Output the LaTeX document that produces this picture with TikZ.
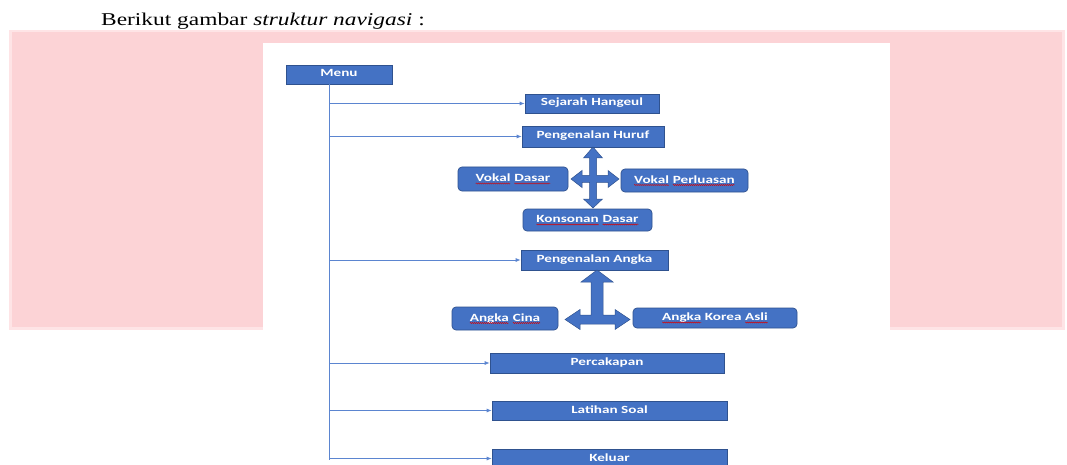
\documentclass[tikz,border=0pt]{standalone}
\usepackage{fontspec}
\setmainfont{Liberation Serif}
\newfontfamily\titlefont[FakeStretch=1.3]{Liberation Serif}
\newfontfamily\boxfont[FakeStretch=1.38]{Carlito}
\usetikzlibrary{arrows.meta,decorations.pathmorphing}
\newcommand\rw[1]{\tikz[baseline=(w.base),x=1pt,y=1pt]{\node[inner sep=0pt,outer sep=0pt,draw=none,fill=none,
    minimum width=0pt,minimum height=0pt,rounded corners=0pt,text height=,text depth=](w){#1};
  \draw[red!85!black, line width=0.4pt, sharp corners, decorate, decoration={snake,amplitude=0.6pt,segment length=2pt}]
  ([yshift=-2pt]w.base west) -- ([yshift=-2pt]w.base east);}}
\definecolor{pinkbg}{RGB}{252,211,214}
\definecolor{pinkedge}{RGB}{254,228,230}
\definecolor{boxblue}{RGB}{68,114,196}
\definecolor{boxedge}{RGB}{47,82,143}
\definecolor{lineblue}{RGB}{91,133,208}
\tikzset{
  box/.style={draw=boxedge, fill=boxblue, line width=0.7pt, text=white, inner sep=0pt,
    text height=7.5pt, text depth=2.5pt,
    font=\boxfont\fontsize{11}{12}\selectfont\bfseries},
  rbox/.style={box, rounded corners=4pt},
  link/.style={draw=lineblue, line width=0.8pt, -{Latex[length=5pt,width=4pt]}},
  trunkline/.style={draw=lineblue, line width=0.9pt},
  bigarrow/.style={draw=boxedge, fill=boxblue, line width=0.5pt, line join=miter},
}
\begin{document}
\begin{tikzpicture}[x=1pt,y=-1pt]
\useasboundingbox (0,0) rectangle (1067,465);
\clip (0,0) rectangle (1067,465);
% background band
\fill[pinkedge] (9,30) rectangle (1065,330);
\fill[pinkbg] (12,32) rectangle (1062,327);
\fill[white] (263,43) rectangle (890,470);
% title
\node[anchor=base west, inner sep=0pt, font=\titlefont\fontsize{18}{20}\selectfont] (title) at (101,26)
  {Berikut gambar \textit{struktur navigasi} :};
% boxes
\node[box, minimum width=106pt, minimum height=19pt] (menu) at (339,74.5) {Menu};
\node[box, minimum width=134pt, minimum height=19pt] (sejarah) at (592,103.5) {Sejarah Hangeul};
\node[box, minimum width=142pt, minimum height=21pt] (huruf) at (593,136.5) {Pengenalan Huruf};
\node[rbox, minimum width=110pt, minimum height=24pt] (vdasar) at (513,179) {\rw{Vokal} \rw{Dasar}};
\node[rbox, minimum width=127pt, minimum height=23pt] (vperluasan) at (684.5,180.5) {\rw{Vokal} \rw{Perluasan}};
\node[rbox, minimum width=129pt, minimum height=22pt] (konsonan) at (587.5,220) {\rw{Konsonan} \rw{Dasar}};
\node[box, minimum width=147pt, minimum height=20pt] (angka) at (594.5,260) {Pengenalan Angka};
\node[rbox, minimum width=106pt, minimum height=23pt] (cina) at (505,318.5) {\rw{Angka} \rw{Cina}};
\node[rbox, minimum width=164pt, minimum height=20pt] (korea) at (715,318) {\rw{Angka} Korea \rw{Asli}};
\node[box, minimum width=234pt, minimum height=20pt] (percakapan) at (607,363) {Percakapan};
\node[box, minimum width=235pt, minimum height=19pt] (latihan) at (609.5,410.5) {Latihan Soal};
\node[box, minimum width=235pt, minimum height=19pt] (keluar) at (609.5,458.5) {Keluar};
% trunk
\coordinate (ttop) at (329,84);
\coordinate (tbot) at (329,460);
\draw[trunkline] (ttop) -- (tbot);
\foreach \n in {sejarah,huruf,angka,percakapan,latihan,keluar}{
  \coordinate (s-\n) at (ttop |- \n.west);
  \draw[link] (s-\n) -- (\n.west);
}
% four-way arrow
\begin{scope}[shift={(593,179)}]
\draw[bigarrow] (0,-32) -- (9.5,-21) -- (3.5,-21) -- (3.5,-3.5) -- (15,-3.5) -- (15,-8.5) -- (26,0)
  -- (15,8.5) -- (15,3.5) -- (3.5,3.5) -- (3.5,20) -- (9.5,20) -- (0,29) -- (-9.5,20) -- (-3.5,20)
  -- (-3.5,3.5) -- (-11,3.5) -- (-11,8.5) -- (-22,0) -- (-11,-8.5) -- (-11,-3.5) -- (-3.5,-3.5)
  -- (-3.5,-21) -- (-9.5,-21) -- cycle;
\end{scope}
% T arrow
\draw[bigarrow] (597,270) -- (613,282) -- (603,282) -- (603,315) -- (615,315) -- (615,309.5)
  -- (630,319.5) -- (615,329.5) -- (615,324) -- (580,324) -- (580,329.5) -- (565,319.5)
  -- (580,309.5) -- (580,315) -- (591,315) -- (591,282) -- (581,282) -- cycle;
\end{tikzpicture}
\end{document}
